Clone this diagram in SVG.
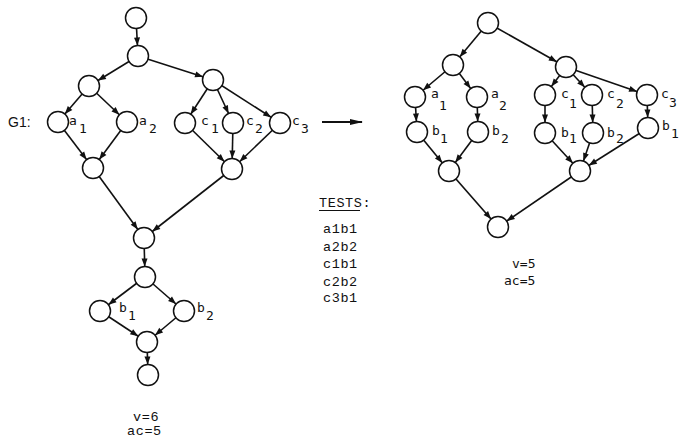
<svg xmlns="http://www.w3.org/2000/svg" width="683" height="438" viewBox="0 0 683 438">
<style>
.n{fill:#fff;stroke:#111;stroke-width:1.5}
.e{stroke:#111;stroke-width:1.6;fill:none;marker-end:url(#ah)}
.l{font-family:"DejaVu Sans Mono","Liberation Mono",monospace;font-size:13px;fill:#111}
.t{font-family:"Liberation Mono","DejaVu Sans Mono",monospace;font-size:13.5px;fill:#111;letter-spacing:0.6px}
.g{font-family:"Liberation Sans",Arial,sans-serif;font-size:14px;fill:#111}
</style>
<defs>
<marker id="ah" markerUnits="userSpaceOnUse" orient="auto" refX="18.5" refY="0" markerWidth="20" markerHeight="8" overflow="visible">
<path d="M0,-3 L8,0 L0,3 z" fill="#111"/>
</marker>
<marker id="big" markerUnits="userSpaceOnUse" orient="auto" refX="12" refY="0" markerWidth="13" markerHeight="7" overflow="visible">
<path d="M0,-3 L13,0 L0,3 z" fill="#111"/>
</marker>
</defs>
<rect width="683" height="438" fill="#fff"/>
<g id="connectors">
<line class="e" x1="136" y1="18" x2="138" y2="56"/>
<line class="e" x1="138" y1="56" x2="89" y2="86"/>
<line class="e" x1="138" y1="56" x2="213" y2="80"/>
<line class="e" x1="89" y1="86" x2="58" y2="122"/>
<line class="e" x1="89" y1="86" x2="127" y2="122"/>
<line class="e" x1="213" y1="80" x2="185" y2="123"/>
<line class="e" x1="213" y1="80" x2="233" y2="123"/>
<line class="e" x1="213" y1="80" x2="280" y2="123"/>
<line class="e" x1="58" y1="122" x2="93" y2="168"/>
<line class="e" x1="127" y1="122" x2="93" y2="168"/>
<line class="e" x1="185" y1="123" x2="232" y2="169"/>
<line class="e" x1="233" y1="123" x2="232" y2="169"/>
<line class="e" x1="280" y1="123" x2="232" y2="169"/>
<line class="e" x1="93" y1="168" x2="144" y2="238"/>
<line class="e" x1="232" y1="169" x2="144" y2="238"/>
<line class="e" x1="144" y1="238" x2="145" y2="277"/>
<line class="e" x1="145" y1="277" x2="100" y2="311"/>
<line class="e" x1="145" y1="277" x2="184" y2="311"/>
<line class="e" x1="100" y1="311" x2="147" y2="342"/>
<line class="e" x1="184" y1="311" x2="147" y2="342"/>
<line class="e" x1="147" y1="342" x2="148" y2="375"/>
<line x1="322" y1="122" x2="362" y2="122" stroke="#111" stroke-width="2" marker-end="url(#big)"/>
<line class="e" x1="488" y1="23" x2="453" y2="65"/>
<line class="e" x1="488" y1="23" x2="566" y2="67"/>
<line class="e" x1="453" y1="65" x2="415" y2="97"/>
<line class="e" x1="453" y1="65" x2="477" y2="97"/>
<line class="e" x1="415" y1="97" x2="417" y2="132"/>
<line class="e" x1="477" y1="97" x2="478" y2="132"/>
<line class="e" x1="417" y1="132" x2="449" y2="171"/>
<line class="e" x1="478" y1="132" x2="449" y2="171"/>
<line class="e" x1="566" y1="67" x2="545" y2="95"/>
<line class="e" x1="566" y1="67" x2="592" y2="95"/>
<line class="e" x1="566" y1="67" x2="647" y2="95"/>
<line class="e" x1="545" y1="95" x2="545" y2="133"/>
<line class="e" x1="592" y1="95" x2="593" y2="133"/>
<line class="e" x1="647" y1="95" x2="648" y2="128"/>
<line class="e" x1="545" y1="133" x2="580" y2="171"/>
<line class="e" x1="593" y1="133" x2="580" y2="171"/>
<line class="e" x1="648" y1="128" x2="580" y2="171"/>
<line class="e" x1="449" y1="171" x2="498" y2="227"/>
<line class="e" x1="580" y1="171" x2="498" y2="227"/>
</g>
<g id="L-top"><circle class="n" cx="136" cy="18" r="10.5"/></g>
<g id="L-n1"><circle class="n" cx="138" cy="56" r="10.5"/></g>
<g id="L-a"><circle class="n" cx="89" cy="86" r="10.5"/></g>
<g id="L-c"><circle class="n" cx="213" cy="80" r="10.5"/></g>
<g id="L-a1"><circle class="n" cx="58" cy="122" r="10.5"/><text class="l" x="69" y="125">a</text><text class="l" x="79" y="133">1</text></g>
<g id="L-a2"><circle class="n" cx="127" cy="122" r="10.5"/><text class="l" x="139" y="125">a</text><text class="l" x="149" y="133">2</text></g>
<g id="L-c1"><circle class="n" cx="185" cy="123" r="10.5"/><text class="l" x="201" y="125">c</text><text class="l" x="211" y="133">1</text></g>
<g id="L-c2"><circle class="n" cx="233" cy="123" r="10.5"/><text class="l" x="246" y="125">c</text><text class="l" x="255" y="133">2</text></g>
<g id="L-c3"><circle class="n" cx="280" cy="123" r="10.5"/><text class="l" x="292" y="125">c</text><text class="l" x="301" y="133">3</text></g>
<g id="L-ja"><circle class="n" cx="93" cy="168" r="10.5"/></g>
<g id="L-jc"><circle class="n" cx="232" cy="169" r="10.5"/></g>
<g id="L-m"><circle class="n" cx="144" cy="238" r="10.5"/></g>
<g id="L-n"><circle class="n" cx="145" cy="277" r="10.5"/></g>
<g id="L-b1"><circle class="n" cx="100" cy="311" r="10.5"/><text class="l" x="119" y="312">b</text><text class="l" x="128" y="320">1</text></g>
<g id="L-b2"><circle class="n" cx="184" cy="311" r="10.5"/><text class="l" x="197" y="312">b</text><text class="l" x="206" y="320">2</text></g>
<g id="L-jb"><circle class="n" cx="147" cy="342" r="10.5"/></g>
<g id="L-end"><circle class="n" cx="148" cy="375" r="10.5"/></g>
<g id="G1-label"><text class="g" x="8" y="127">G1:</text></g>
<g id="R-top"><circle class="n" cx="488" cy="23" r="10.5"/></g>
<g id="R-a"><circle class="n" cx="453" cy="65" r="10.5"/></g>
<g id="R-c"><circle class="n" cx="566" cy="67" r="10.5"/></g>
<g id="R-a1"><circle class="n" cx="415" cy="97" r="10.5"/><text class="l" x="431" y="98">a</text><text class="l" x="439" y="110">1</text></g>
<g id="R-a2"><circle class="n" cx="477" cy="97" r="10.5"/><text class="l" x="491" y="98">a</text><text class="l" x="499" y="110">2</text></g>
<g id="R-b1"><circle class="n" cx="417" cy="132" r="10.5"/><text class="l" x="432" y="135">b</text><text class="l" x="440" y="143">1</text></g>
<g id="R-b2"><circle class="n" cx="478" cy="132" r="10.5"/><text class="l" x="492" y="135">b</text><text class="l" x="501" y="143">2</text></g>
<g id="R-ja"><circle class="n" cx="449" cy="171" r="10.5"/></g>
<g id="R-c1"><circle class="n" cx="545" cy="95" r="10.5"/><text class="l" x="561" y="98">c</text><text class="l" x="569" y="108">1</text></g>
<g id="R-c2"><circle class="n" cx="592" cy="95" r="10.5"/><text class="l" x="607" y="98">c</text><text class="l" x="616" y="108">2</text></g>
<g id="R-c3"><circle class="n" cx="647" cy="95" r="10.5"/><text class="l" x="661" y="98">c</text><text class="l" x="669" y="107">3</text></g>
<g id="R-cb1"><circle class="n" cx="545" cy="133" r="10.5"/><text class="l" x="561" y="137">b</text><text class="l" x="569" y="143">1</text></g>
<g id="R-cb2"><circle class="n" cx="593" cy="133" r="10.5"/><text class="l" x="607" y="137">b</text><text class="l" x="616" y="143">2</text></g>
<g id="R-cb3"><circle class="n" cx="648" cy="128" r="10.5"/><text class="l" x="662" y="130">b</text><text class="l" x="671" y="138">1</text></g>
<g id="R-jc"><circle class="n" cx="580" cy="171" r="10.5"/></g>
<g id="R-end"><circle class="n" cx="498" cy="227" r="10.5"/></g>
<g id="tests">
<text class="t" x="319" y="207">TESTS:</text>
<line x1="319" y1="210.5" x2="360" y2="210.5" stroke="#111" stroke-width="1"/>
<text class="t" x="323" y="233">a1b1</text>
<text class="t" x="323" y="250.5">a2b2</text>
<text class="t" x="323" y="268">c1b1</text>
<text class="t" x="323" y="285.5">c2b2</text>
<text class="t" x="323" y="302">c3b1</text>
</g>
<g id="left-metrics">
<text class="t" x="133" y="421">v=6</text>
<text class="t" x="127" y="435">ac=5</text>
</g>
<g id="right-metrics">
<text class="l" x="512" y="268">v=5</text>
<text class="l" x="504" y="285">ac=5</text>
</g>
</svg>
